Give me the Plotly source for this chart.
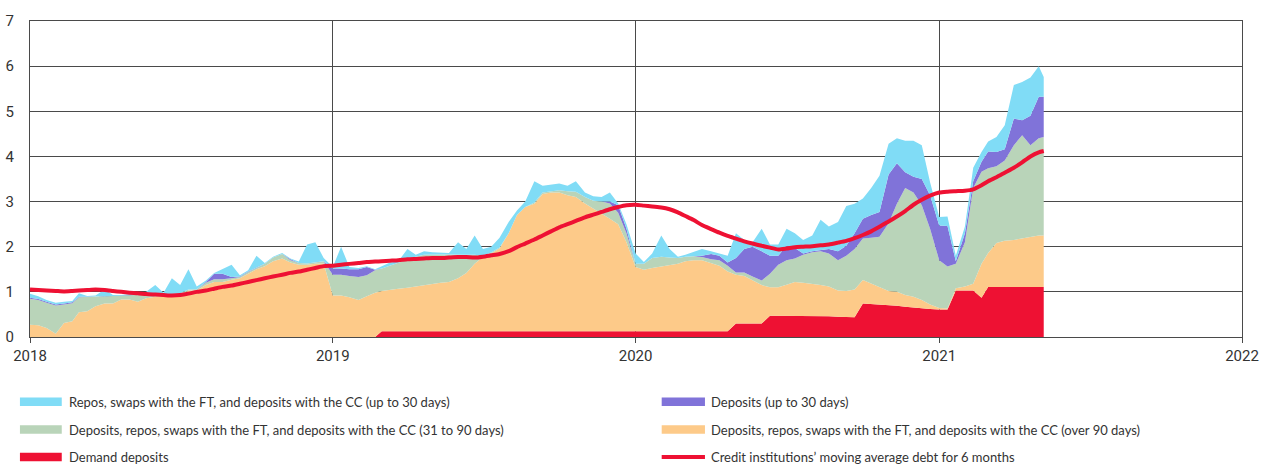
import pandas as pd
import plotly.graph_objects as go

# sample dates: 1st, 11th and 21st of every month, Jan 2018 - Apr 2021, then early May 2021
dates = [pd.Timestamp(y, m, d) for y in range(2018, 2022) for m in range(1, 13) for d in (1, 11, 21)
         if pd.Timestamp(y, m, d) <= pd.Timestamp(2021, 4, 21)]
dates += [pd.Timestamp(2021, 5, 1), pd.Timestamp(2021, 5, 7)]

demand = ([0.0] * 36
          + [0.0] * 6 + [0.13] * 30
          + [0.13] * 12 + [0.30] * 4
          + [0.47, 0.47, 0.47, 0.47, 0.47, 0.47, 0.47, 0.46, 0.45, 0.45, 0.44]
          + [0.74, 0.73, 0.72, 0.70, 0.69, 0.67, 0.65, 0.63, 0.62]
          + [0.61, 0.61, 1.03, 1.03, 1.03, 0.87, 1.11, 1.11, 1.11, 1.11, 1.11, 1.11, 1.11, 1.11])

over_90 = [0.27, 0.26, 0.20, 0.07, 0.31, 0.35, 0.55, 0.57, 0.68, 0.74, 0.74, 0.83,
           0.83, 0.78, 0.86, 0.89, 0.89, 0.89, 0.92, 1.03, 1.03, 1.15, 1.22, 1.22,
           1.27, 1.30, 1.40, 1.50, 1.57, 1.68, 1.74, 1.65, 1.60, 1.60, 1.62, 1.63,
           0.92, 0.92, 0.88, 0.82, 0.90, 0.98, 0.89, 0.92, 0.94, 0.96, 0.99, 1.01,
           1.05, 1.07, 1.09, 1.17, 1.29, 1.49, 1.64, 1.72, 1.83, 2.17, 2.57, 2.75,
           2.82, 3.04, 3.07, 3.07, 3.01, 2.97, 2.83, 2.72, 2.60, 2.49, 2.37, 1.97,
           1.42, 1.36, 1.40, 1.43, 1.46, 1.49, 1.55, 1.57, 1.57, 1.50, 1.45, 1.32,
           1.08, 1.05, 0.96, 0.85, 0.63, 0.63, 0.69, 0.75, 0.73, 0.71, 0.68, 0.66,
           0.58, 0.57, 0.61, 0.52, 0.45, 0.38, 0.32, 0.31, 0.26, 0.24, 0.19, 0.10,
           0.03, 0.02, 0.05, 0.09, 0.15, 0.75, 0.75, 0.97, 1.02, 1.04, 1.07, 1.11,
           1.14, 1.14]

days_31_90 = [0.58, 0.56, 0.56, 0.63, 0.41, 0.40, 0.33, 0.32, 0.22, 0.16, 0.17, 0.09,
              0.10, 0.15, 0.09, 0.06, 0.06, 0.06, 0.05, 0.02, 0.03, 0.05, 0.06, 0.06,
              0.03, 0.03, 0.04, 0.03, 0.05, 0.08, 0.10, 0.05, 0.04, 0.03, 0.03, 0.05,
              0.46, 0.46, 0.47, 0.51, 0.47, 0.50, 0.50, 0.53, 0.58, 0.63, 0.66, 0.68,
              0.65, 0.63, 0.61, 0.52, 0.40, 0.20, 0.03, 0.02, 0.02, 0.00, 0.00, 0.00,
              0.03, 0.03, 0.03, 0.05, 0.09, 0.12, 0.14, 0.17, 0.27, 0.34, 0.25, 0.20,
              0.07, 0.13, 0.22, 0.22, 0.17, 0.13, 0.10, 0.09, 0.07, 0.09, 0.12, 0.13,
              0.05, 0.08, 0.08, 0.10, 0.30, 0.50, 0.54, 0.52, 0.62, 0.70, 0.75, 0.73,
              0.67, 0.78, 0.90, 0.92, 1.02, 1.12, 1.50, 1.95, 2.37, 2.31, 2.10, 1.68,
              1.06, 0.93, 0.54, 0.98, 2.12, 2.04, 1.88, 1.70, 1.78, 2.10, 2.29, 2.03,
              2.15, 2.18]

dep_30 = [0.02, 0.02, 0.02, 0.02, 0.02, 0.02, 0.01, 0.00, 0.00, 0.00, 0.00, 0.00,
          0.00, 0.00, 0.00, 0.00, 0.00, 0.00, 0.00, 0.00, 0.00, 0.02, 0.12, 0.12,
          0.03, 0.01, 0.01, 0.00, 0.00, 0.00, 0.00, 0.02, 0.00, 0.00, 0.00, 0.00,
          0.14, 0.14, 0.15, 0.17, 0.18, 0.01, 0.00, 0.00, 0.00, 0.00, 0.00, 0.00,
          0.00, 0.00, 0.00, 0.00, 0.00, 0.00, 0.00, 0.00, 0.00, 0.00, 0.00, 0.00,
          0.00, 0.00, 0.00, 0.00, 0.00, 0.00, 0.00, 0.00, 0.00, 0.04, 0.17, 0.10,
          0.00, 0.00, 0.00, 0.00, 0.00, 0.00, 0.00, 0.00, 0.03, 0.12, 0.10, 0.07,
          0.32, 0.52, 0.66, 0.65, 0.40, 0.20, 0.32, 0.23, 0.03, 0.02, 0.02, 0.10,
          0.20, 0.22, 0.35, 0.44, 0.50, 0.55, 1.08, 0.90, 0.35, 0.35, 0.58, 0.74,
          0.77, 0.90, 0.06, 0.20, 0.15, 0.22, 0.37, 0.32, 0.25, 0.59, 0.33, 0.65,
          0.92, 0.89]

repos_30 = [0.09, 0.06, 0.04, 0.04, 0.04, 0.03, 0.08, 0.02, 0.02, 0.15, 0.02, 0.01,
            0.02, 0.02, 0.05, 0.20, 0.03, 0.35, 0.18, 0.45, 0.06, 0.03, 0.02, 0.10,
            0.27, 0.03, 0.03, 0.27, 0.02, 0.02, 0.02, 0.02, 0.03, 0.42, 0.45, 0.07,
            0.03, 0.48, 0.05, 0.03, 0.02, 0.01, 0.04, 0.07, 0.03, 0.23, 0.04, 0.08,
            0.05, 0.04, 0.03, 0.28, 0.13, 0.43, 0.15, 0.13, 0.22, 0.25, 0.10, 0.12,
            0.47, 0.15, 0.15, 0.15, 0.12, 0.23, 0.10, 0.10, 0.10, 0.20, 0.04, 0.10,
            0.23, 0.04, 0.10, 0.47, 0.19, 0.03, 0.04, 0.09, 0.15, 0.06, 0.05, 0.15,
            0.55, 0.20, 0.10, 0.50, 0.25, 0.25, 0.38, 0.33, 0.30, 0.35, 0.68, 0.50,
            0.65, 0.88, 0.65, 0.45, 0.60, 0.80, 0.68, 0.55, 0.70, 0.80, 0.75, 0.29,
            0.19, 0.21, 0.12, 0.15, 0.30, 0.22, 0.22, 0.33, 0.53, 0.74, 0.85, 0.85,
            0.68, 0.44]

avg_debt = [1.05, 1.04, 1.03, 1.02, 1.01, 1.02, 1.03, 1.04, 1.05, 1.04, 1.02, 1.00,
            0.98, 0.97, 0.95, 0.94, 0.93, 0.92, 0.93, 0.96, 1.00, 1.03, 1.07, 1.11,
            1.14, 1.18, 1.22, 1.26, 1.30, 1.34, 1.38, 1.42, 1.45, 1.49, 1.53, 1.57,
            1.58, 1.60, 1.62, 1.64, 1.66, 1.67, 1.68, 1.69, 1.70, 1.72, 1.73, 1.74,
            1.75, 1.75, 1.76, 1.77, 1.77, 1.76, 1.78, 1.81, 1.84, 1.90, 1.99, 2.07,
            2.16, 2.25, 2.34, 2.43, 2.50, 2.57, 2.65, 2.71, 2.77, 2.83, 2.88, 2.92,
            2.93, 2.91, 2.89, 2.87, 2.83, 2.76, 2.68, 2.59, 2.48, 2.39, 2.31, 2.24,
            2.18, 2.12, 2.07, 2.02, 1.98, 1.94, 1.96, 1.99, 2.00, 2.01, 2.03, 2.05,
            2.09, 2.13, 2.19, 2.26, 2.34, 2.44, 2.56, 2.67, 2.79, 2.93, 3.04, 3.13,
            3.20, 3.22, 3.23, 3.24, 3.27, 3.36, 3.45, 3.54, 3.64, 3.75, 3.87, 4.00,
            4.09, 4.12]

names = [
    "Repos, swaps with the FT, and deposits with the CC (up to 30 days)",
    "Deposits (up to 30 days)",
    "Deposits, repos, swaps with the FT, and deposits with the CC (31 to 90 days)",
    "Deposits, repos, swaps with the FT, and deposits with the CC (over 90 days)",
    "Demand deposits",
    "Credit institutions\u2019 moving average debt for 6 months",
]
colors = {
    "repos": "#80dcf6",
    "dep30": "#8073d9",
    "d3190": "#b9d4b9",
    "over90": "#fdca89",
    "demand": "#ee1133",
}

font = "Roboto, 'Liberation Sans', sans-serif"
legend_font = "Lato, Roboto, sans-serif"

fig = go.Figure()

# stacked from the bottom up
stack = [(demand, names[4], colors["demand"]),
         (over_90, names[3], colors["over90"]),
         (days_31_90, names[2], colors["d3190"]),
         (dep_30, names[1], colors["dep30"]),
         (repos_30, names[0], colors["repos"])]
for vals, name, col in stack:
    fig.add_trace(go.Scatter(x=dates, y=vals, name=name, mode='lines', stackgroup='one',
                             line=dict(width=0, color=col), fillcolor=col, showlegend=False))

fig.add_trace(go.Scatter(x=dates, y=avg_debt, name=names[5], mode='lines',
                         line=dict(color=colors["demand"], width=4, shape='spline', smoothing=0.6),
                         showlegend=False))

# hand-made legend in two columns under the plot
legend_items = [
    (names[0], colors["repos"], 'box', 0), (names[1], colors["dep30"], 'box', 1),
    (names[2], colors["d3190"], 'box', 0), (names[3], colors["over90"], 'box', 1),
    (names[4], colors["demand"], 'box', 0), (names[5], colors["demand"], 'line', 1),
]
row_y = [-0.205, -0.293, -0.380]
col_x = [(-0.0083, 0.0262, 0.0305), (0.5212, 0.5569, 0.5602)]
for i, (label, col, kind, c) in enumerate(legend_items):
    y = row_y[i // 2]
    x0, x1, xt = col_x[c]
    if kind == 'box':
        fig.add_shape(type='rect', xref='paper', yref='paper', x0=x0, x1=x1,
                      y0=y - 0.0135, y1=y + 0.0135, fillcolor=col, line_width=0)
    else:
        fig.add_shape(type='line', xref='paper', yref='paper', x0=x0, x1=x1,
                      y0=y, y1=y, line=dict(color=col, width=4))
    fig.add_annotation(x=xt, y=y, xref='paper', yref='paper', text=label, showarrow=False,
                       xanchor='left', yanchor='middle',
                       font=dict(family=legend_font, size=13, color='#333333'))

fig.update_xaxes(range=['2018-01-01', '2022-01-01'], dtick='M12', tickformat='%Y',
                 showgrid=True, gridcolor='#4a4a4a', gridwidth=1,
                 showline=True, linecolor='#4a4a4a', linewidth=1, mirror=True,
                 ticks='outside', ticklen=5, tickcolor='#4a4a4a', automargin=False,
                 tickfont=dict(family=font, size=15, color='#333333'))
fig.update_yaxes(range=[0, 7], dtick=1, showgrid=True, gridcolor='#4a4a4a', gridwidth=1,
                 showline=True, linecolor='#4a4a4a', linewidth=1, mirror=True,
                 ticks='', ticklabelstandoff=12, zeroline=False, automargin=False,
                 tickfont=dict(family=font, size=15, color='#333333'))

fig.update_layout(width=1271, height=466, margin=dict(l=30, r=29, t=21, b=129),
                  plot_bgcolor='white', paper_bgcolor='white', hovermode='x')

# drop the page's default body margin so the figure sits at the window's corner
fig.write_html("out.html", config={'displayModeBar': False},
               post_script="document.body.style.margin = '0';")
